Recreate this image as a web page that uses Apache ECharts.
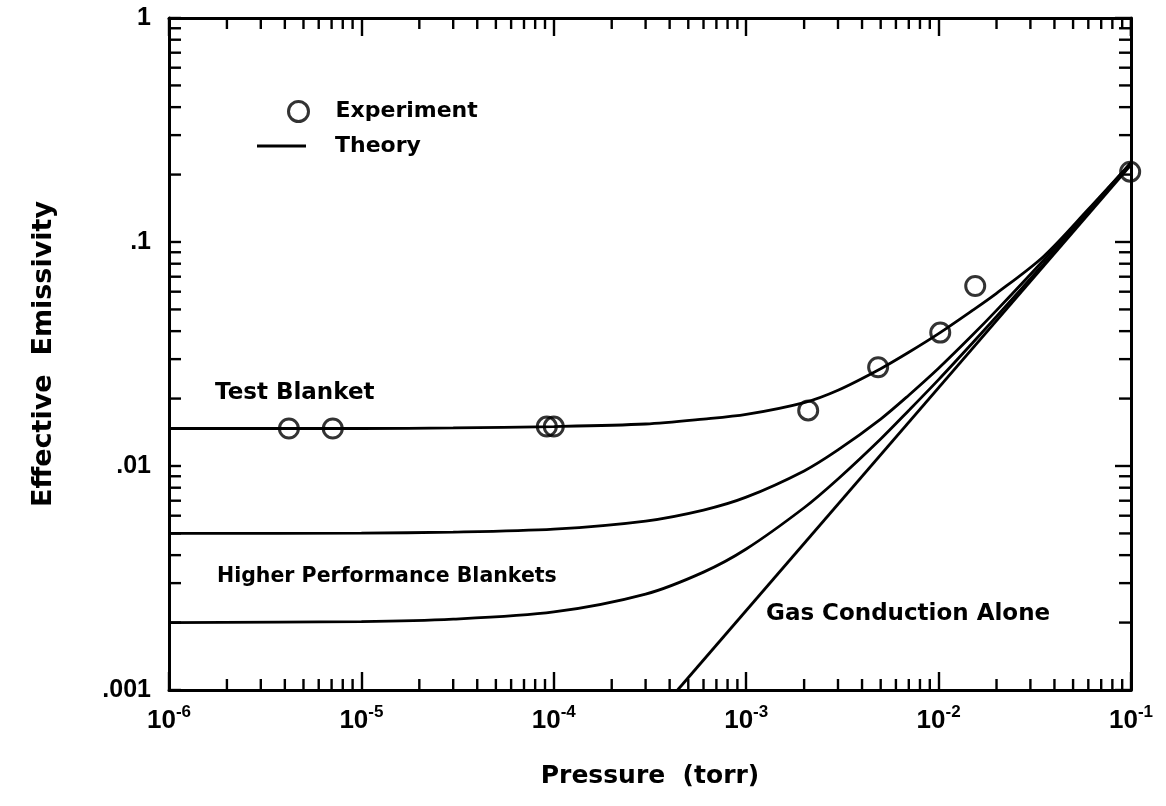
<!DOCTYPE html>
<html>
<head>
<meta charset="utf-8">
<title>Effective Emissivity vs Pressure</title>
<script src="https://cdn.jsdelivr.net/npm/echarts@6/dist/echarts.min.js"></script>
<style>
  html, body { margin: 0; padding: 0; background: #fff; }
  #chart { width: 1166px; height: 806px; }
</style>
</head>
<body>
<div id="chart"></div>
<script>
// Measured points (pressure in torr, effective emissivity)
const expPressure   = [4.2e-6, 7.1e-6, 9.2e-5, 1.0e-4, 2.1e-3, 4.85e-3, 1.02e-2, 1.55e-2, 9.9e-2];
const expEmissivity = [0.0147, 0.0147, 0.0150, 0.0150, 0.0177, 0.0276, 0.0394, 0.0636, 0.206];

// Theory curves, all sampled on the same pressure grid
const theoryPressure = [1e-6, 1e-5, 3e-5, 1e-4, 3e-4, 6e-4, 1e-3, 2e-3, 3e-3, 5e-3, 7e-3, 1e-2, 1.5e-2, 2e-2, 3.5e-2, 6e-2, 1e-1];
const testBlanket    = [0.0147, 0.0147, 0.0148, 0.0150, 0.0154, 0.0162, 0.0170, 0.0192, 0.0218, 0.0272, 0.0322, 0.0390, 0.0495, 0.0590, 0.0860, 0.140, 0.226];
const betterBlanketA = [0.0050, 0.00502, 0.00507, 0.00523, 0.00568, 0.00636, 0.00726, 0.00951, 0.0118, 0.0162, 0.0207, 0.0273, 0.0384, 0.0495, 0.0827, 0.138, 0.226];
const betterBlanketB = [0.0020, 0.00202, 0.00207, 0.00223, 0.00268, 0.00336, 0.00426, 0.00651, 0.00875, 0.0132, 0.0177, 0.0243, 0.0354, 0.0465, 0.0797, 0.135, 0.223];

// Gas conduction alone: a straight line on log-log axes
const gasPressure   = [4.4e-4, 1e-1];
const gasEmissivity = [0.001, 0.221];

// Axis ranges and tick layout
const X_MIN = 1e-6, X_MAX = 1e-1;
const Y_MIN = 1e-3, Y_MAX = 1;
const xDecades = [1e-6, 1e-5, 1e-4, 1e-3, 1e-2];
const yDecades = [1e-3, 1e-2, 1e-1];
const minorMantissas = [2, 3, 4, 5, 6, 7, 8, 9];

const pairs = (xs, ys) => xs.map((x, i) => [x, ys[i]]);

const minorTicks = decades => {
  const out = [];
  decades.forEach(d => minorMantissas.forEach(m => out.push(m * d)));
  return out;
};

const TEXT_FONT = 'DejaVu Sans';
const NUM_FONT = 'Liberation Sans';

// Minor ticks drawn on both opposite sides of the frame
function minorTickSeries(values, isX, len) {
  return {
    type: 'custom',
    silent: true,
    clip: false,
    z: 6,
    data: values.map(v => (isX ? [v, Y_MIN] : [X_MIN, v])),
    renderItem(params, api) {
      const style = { stroke: '#000', lineWidth: 2.4 };
      if (isX) {
        const v = api.value(0);
        const a = api.coord([v, Y_MIN]);
        const b = api.coord([v, Y_MAX]);
        return {
          type: 'group',
          children: [
            { type: 'line', shape: { x1: a[0], y1: a[1], x2: a[0], y2: a[1] - len }, style },
            { type: 'line', shape: { x1: b[0], y1: b[1], x2: b[0], y2: b[1] + len }, style }
          ]
        };
      }
      const v = api.value(1);
      const a = api.coord([X_MIN, v]);
      const b = api.coord([X_MAX, v]);
      return {
        type: 'group',
        children: [
          { type: 'line', shape: { x1: a[0], y1: a[1], x2: a[0] + len, y2: a[1] }, style },
          { type: 'line', shape: { x1: b[0], y1: b[1], x2: b[0] - len, y2: b[1] }, style }
        ]
      };
    }
  };
}

const theoryLine = data => ({
  name: 'Theory',
  type: 'line',
  data,
  symbol: 'none',
  showSymbol: false,
  smooth: 0.3,
  clip: true,
  z: 3,
  lineStyle: { color: '#000', width: 2.8 },
  itemStyle: { color: '#000' }
});

const frameAxis = (extra) => Object.assign({
  type: 'log',
  logBase: 10,
  axisLine: { show: true, lineStyle: { color: '#000', width: 3 } },
  axisTick: { show: true, inside: true, length: 18, lineStyle: { color: '#000', width: 2.4 } },
  splitLine: { show: false },
  minorTick: { show: false },
  minorSplitLine: { show: false }
}, extra);

const expLabel = v => {
  const e = Math.round(Math.log10(v));
  return '{b|10}{s|' + e + '}';
};
const emLabel = v => {
  const e = Math.round(Math.log10(v));
  return e === 0 ? '1' : '.' + '0'.repeat(-e - 1) + '1';
};

const legendText = pad => ({
  color: '#000',
  rich: { t: { fontFamily: TEXT_FONT, fontWeight: 'bold', fontSize: 22, color: '#000', padding: [0, 0, 0, pad] } }
});

const chart = echarts.init(document.getElementById('chart'), null, { renderer: 'canvas' });

chart.setOption({
  animation: false,
  backgroundColor: '#fff',
  grid: { left: 169, right: 35, top: 18, bottom: 116, containLabel: false, outerBoundsMode: 'none' },
  xAxis: [
    frameAxis({
      position: 'bottom', min: X_MIN, max: X_MAX,
      name: 'Pressure  (torr)', nameLocation: 'middle', nameGap: 74,
      nameTextStyle: { fontFamily: TEXT_FONT, fontWeight: 'bold', fontSize: 25, color: '#000' },
      axisLabel: {
        margin: 14,
        formatter: expLabel,
        rich: {
          b: { fontFamily: NUM_FONT, fontWeight: 'bold', fontSize: 26, color: '#000', lineHeight: 30, verticalAlign: 'bottom' },
          s: { fontFamily: NUM_FONT, fontWeight: 'bold', fontSize: 17, color: '#000', lineHeight: 12, verticalAlign: 'top' }
        }
      }
    }),
    frameAxis({ position: 'top', min: X_MIN, max: X_MAX, axisLabel: { show: false } })
  ],
  yAxis: [
    frameAxis({
      position: 'left', min: Y_MIN, max: Y_MAX,
      axisTick: { show: true, inside: true, length: 12, lineStyle: { color: '#000', width: 2.4 } },
      name: 'Effective  Emissivity', nameLocation: 'middle', nameGap: 112,
      nameTextStyle: { fontFamily: TEXT_FONT, fontWeight: 'bold', fontSize: 27, color: '#000' },
      axisLabel: {
        margin: 18,
        formatter: emLabel,
        fontFamily: NUM_FONT, fontWeight: 'bold', fontSize: 25, color: '#000'
      }
    }),
    frameAxis({
      position: 'right', min: Y_MIN, max: Y_MAX,
      axisTick: { show: true, inside: true, length: 16, lineStyle: { color: '#000', width: 2.4 } },
      axisLabel: { show: false }
    })
  ],
  legend: [
    {
      data: ['Experiment'],
      left: 282, top: 95,
      itemWidth: 20, itemHeight: 20,
      itemStyle: { color: 'rgba(0,0,0,0)', borderColor: '#000', borderWidth: 3 },
      formatter: '{t|{name}}',
      textStyle: legendText(22),
      selectedMode: false
    },
    {
      data: [{ name: 'Theory', icon: 'rect' }],
      left: 252, top: 130,
      itemWidth: 49, itemHeight: 3,
      itemStyle: { color: '#000', borderWidth: 0 },
      formatter: '{t|{name}}',
      textStyle: legendText(24),
      selectedMode: false
    }
  ],
  graphic: [
    { type: 'text', left: 215, top: 382, style: { text: 'Test Blanket', font: 'bold 23px "' + TEXT_FONT + '"', fill: '#000' } },
    { type: 'text', left: 217, top: 566, style: { text: 'Higher Performance Blankets', font: 'bold 20.5px "' + TEXT_FONT + '"', fill: '#000' } },
    { type: 'text', left: 766, top: 603, style: { text: 'Gas Conduction Alone', font: 'bold 23px "' + TEXT_FONT + '"', fill: '#000' } }
  ],
  series: [
    theoryLine(pairs(theoryPressure, testBlanket)),
    theoryLine(pairs(theoryPressure, betterBlanketA)),
    theoryLine(pairs(theoryPressure, betterBlanketB)),
    theoryLine(pairs(gasPressure, gasEmissivity)),
    {
      name: 'Experiment',
      type: 'scatter',
      data: pairs(expPressure, expEmissivity),
      symbol: 'circle',
      symbolSize: 19,
      z: 4,
      itemStyle: { color: 'rgba(0,0,0,0)', borderColor: '#000', borderWidth: 3 }
    },
    minorTickSeries(minorTicks(xDecades), true, 11),
    minorTickSeries(minorTicks(yDecades), false, 12)
  ]
});
</script>
</body>
</html>
